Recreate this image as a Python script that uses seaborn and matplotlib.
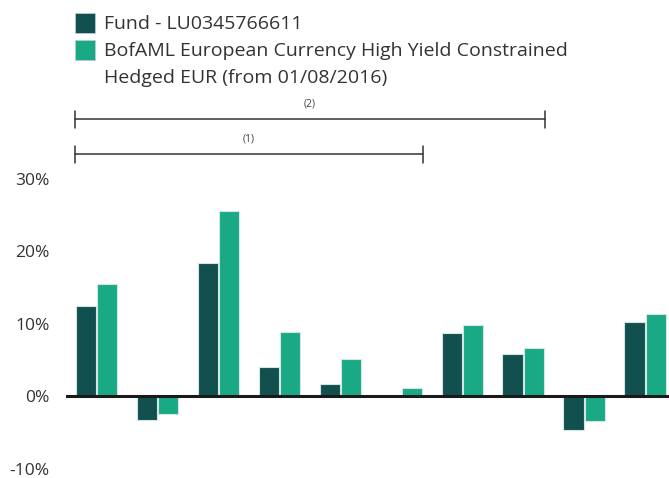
import pandas as pd
import matplotlib.pyplot as plt
import matplotlib.transforms as mtransforms
from matplotlib.patches import Rectangle
from matplotlib.ticker import PercentFormatter
import seaborn as sns

# data
periods = ["1", "2", "3", "4", "5", "6", "7", "8", "9", "10"]
fund = [12.5, -3.3, 18.4, 4.1, 1.7, 0.0, 8.7, 5.8, -4.7, 10.2]
bench = [15.5, -2.5, 25.6, 8.9, 5.1, 1.1, 9.9, 6.7, -3.4, 11.4]
series_names = ["Fund - LU0345766611",
                "BofAML European Currency High Yield Constrained\nHedged EUR (from 01/08/2016)"]
colors = ["#124f4f", "#19a985"]
brackets = [("(2)", 8), ("(1)", 6)]  # label, number of periods covered

df = pd.DataFrame({
    "period": periods * 2,
    "value": [v / 100 for v in fund + bench],
    "series": [series_names[0]] * len(fund) + [series_names[1]] * len(bench),
})

sns.set_style("white")
plt.rcParams["font.family"] = ["Open Sans", "DejaVu Sans"]
plt.rcParams["axes.unicode_minus"] = False

fig = plt.figure(figsize=(6.69, 4.78), dpi=100)
ax = fig.add_axes([0.0987, 0.012, 0.9013, 0.6285])

sns.barplot(data=df, x="period", y="value", hue="series", palette=colors,
            saturation=1, width=0.7, gap=0.05, edgecolor="#d3e6e3", linewidth=0.8,
            legend=False, ax=ax)

ax.axhline(0, color="#1a1a1a", lw=2.2, zorder=5)
ax.set_ylim(-0.105, 0.31)
ax.set_xlim(-0.5, 9.39)
ax.set_yticks([-0.1, 0, 0.1, 0.2, 0.3])
ax.yaxis.set_major_formatter(PercentFormatter(1.0, decimals=0))
ax.tick_params(axis="y", length=0, pad=12, labelsize=12.5, labelcolor="#333333")
ax.set_xticks([])
ax.set_xlabel("")
ax.set_ylabel("")
sns.despine(ax=ax, left=True, bottom=True)

# legend drawn by hand so the square sits on the first text line
leg_y = [1 - 23 / 478, 1 - 50 / 478]
for name, col, y in zip(series_names, colors, leg_y):
    fig.patches.append(Rectangle((75 / 669, y - 10 / 478), 20 / 669, 20 / 478,
                                 transform=fig.transFigure, facecolor=col,
                                 edgecolor="#b9cccc", lw=0.6))
    fig.text(104 / 669, y + 8 / 478, name, ha="left", va="top", fontsize=14,
             color="#333333", linespacing=1.62)

# period brackets above the bars
trans = mtransforms.blended_transform_factory(ax.transData, fig.transFigure)
x0 = -0.35
for (lab, n), line_px in zip(brackets, [119, 154]):
    y = 1 - line_px / 478
    x1 = n - 1 + 0.35
    ax.plot([x0, x1], [y, y], transform=trans, color="#333333", lw=1.1, clip_on=False)
    for xe in (x0, x1):
        ax.plot([xe, xe], [y - 9 / 478, y + 8 / 478], transform=trans,
                color="#333333", lw=1.1, clip_on=False)
    ax.text((x0 + x1) / 2, y + 15 / 478, lab, transform=trans, ha="center",
            va="center", fontsize=7.5, color="#444444")

fig.savefig("out.png", dpi=100)
